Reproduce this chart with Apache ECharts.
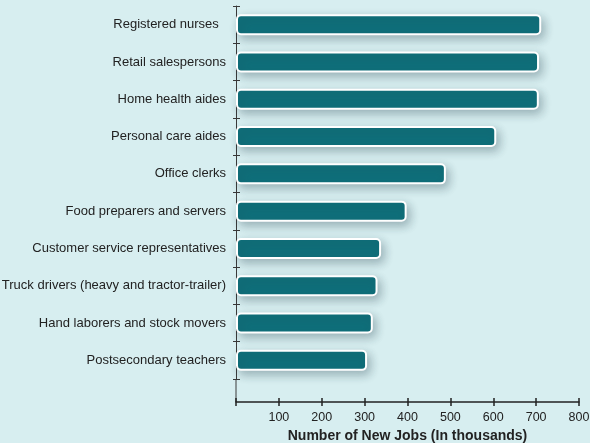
<!DOCTYPE html>
<html>
<head>
<meta charset="utf-8">
<script src="https://cdn.jsdelivr.net/npm/echarts@6/dist/echarts.min.js"></script>
<style>
  html, body { margin: 0; padding: 0; background: #d7eef0; }
  #chart { width: 590px; height: 443px; }
</style>
</head>
<body>
<div id="chart"></div>
<script>
// occupations, top to bottom
var occupations = [
    'Registered nurses',
    'Retail salespersons',
    'Home health aides',
    'Personal care aides',
    'Office clerks',
    'Food preparers and servers',
    'Customer service representatives',
    'Truck drivers (heavy and tractor-trailer)',
    'Hand laborers and stock movers',
    'Postsecondary teachers'
];
// new jobs, thousands
var newJobs = [711.9, 706.8, 706.3, 607.0, 489.5, 398.0, 338.4, 330.1, 319.1, 305.7];
var xTicks = [0, 100, 200, 300, 400, 500, 600, 700, 800];

var axisColor = '#222';
var yLineColor = '#3a3a3a';
var font = 'Liberation Sans, Arial, sans-serif';

var chart = echarts.init(document.getElementById('chart'));
chart.setOption({
    backgroundColor: '#d7eef0',
    animation: false,
    grid: {left: 236, right: 11, top: 6, bottom: 64, containLabel: false, outerBoundsMode: 'none'},
    xAxis: [
        {
            type: 'value',
            min: xTicks[0],
            max: xTicks[xTicks.length - 1],
            interval: xTicks[1] - xTicks[0],
            position: 'bottom',
            offset: 23,
            splitLine: {show: false},
            axisLine: {show: true, lineStyle: {color: axisColor, width: 1.5}},
            axisTick: {show: true, length: 4, lineStyle: {color: axisColor, width: 1.5}},
            axisLabel: {
                margin: 9,
                fontSize: 12.5,
                color: axisColor,
                fontFamily: font,
                formatter: function (v) { return v === 0 ? '' : v; }
            },
            name: 'Number of New Jobs (In thousands)',
            nameLocation: 'middle',
            nameGap: 27,
            nameTextStyle: {fontSize: 14, fontWeight: 'bold', color: axisColor, fontFamily: font}
        },
        {
            // inside half of the crossing ticks
            type: 'value',
            min: xTicks[0],
            max: xTicks[xTicks.length - 1],
            interval: xTicks[1] - xTicks[0],
            position: 'bottom',
            offset: 23,
            splitLine: {show: false},
            axisLine: {show: false},
            axisTick: {show: true, inside: true, length: 4, lineStyle: {color: axisColor, width: 1.5}},
            axisLabel: {show: false}
        }
    ],
    yAxis: [
        {
            type: 'category',
            data: occupations,
            inverse: true,
            axisLine: {show: true, lineStyle: {color: yLineColor, width: 1}},
            axisTick: {show: true, length: 3, lineStyle: {color: yLineColor}},
            axisLabel: {
                margin: 10,
                fontSize: 13,
                color: axisColor,
                fontFamily: font,
                formatter: function (v) { return v === 'Registered nurses' ? v + '  ' : v; }
            }
        },
        {
            type: 'category',
            data: occupations,
            inverse: true,
            position: 'left',
            axisLine: {show: false},
            axisTick: {show: true, inside: true, length: 4, lineStyle: {color: yLineColor}},
            axisLabel: {show: false}
        }
    ],
    graphic: [
        {
            // y axis line runs down to the offset x axis
            type: 'line',
            shape: {x1: 236, y1: 379, x2: 236, y2: 402},
            style: {stroke: yLineColor, lineWidth: 1},
            z: 0
        }
    ],
    series: [
        {
            type: 'bar',
            data: newJobs,
            barWidth: 21,
            itemStyle: {
                color: '#0f6f7a',
                borderColor: '#ffffff',
                borderWidth: 2,
                borderRadius: 4,
                shadowBlur: 10,
                shadowColor: 'rgba(30, 60, 70, 0.32)',
                shadowOffsetX: 3,
                shadowOffsetY: 4
            }
        }
    ]
});
</script>
</body>
</html>
